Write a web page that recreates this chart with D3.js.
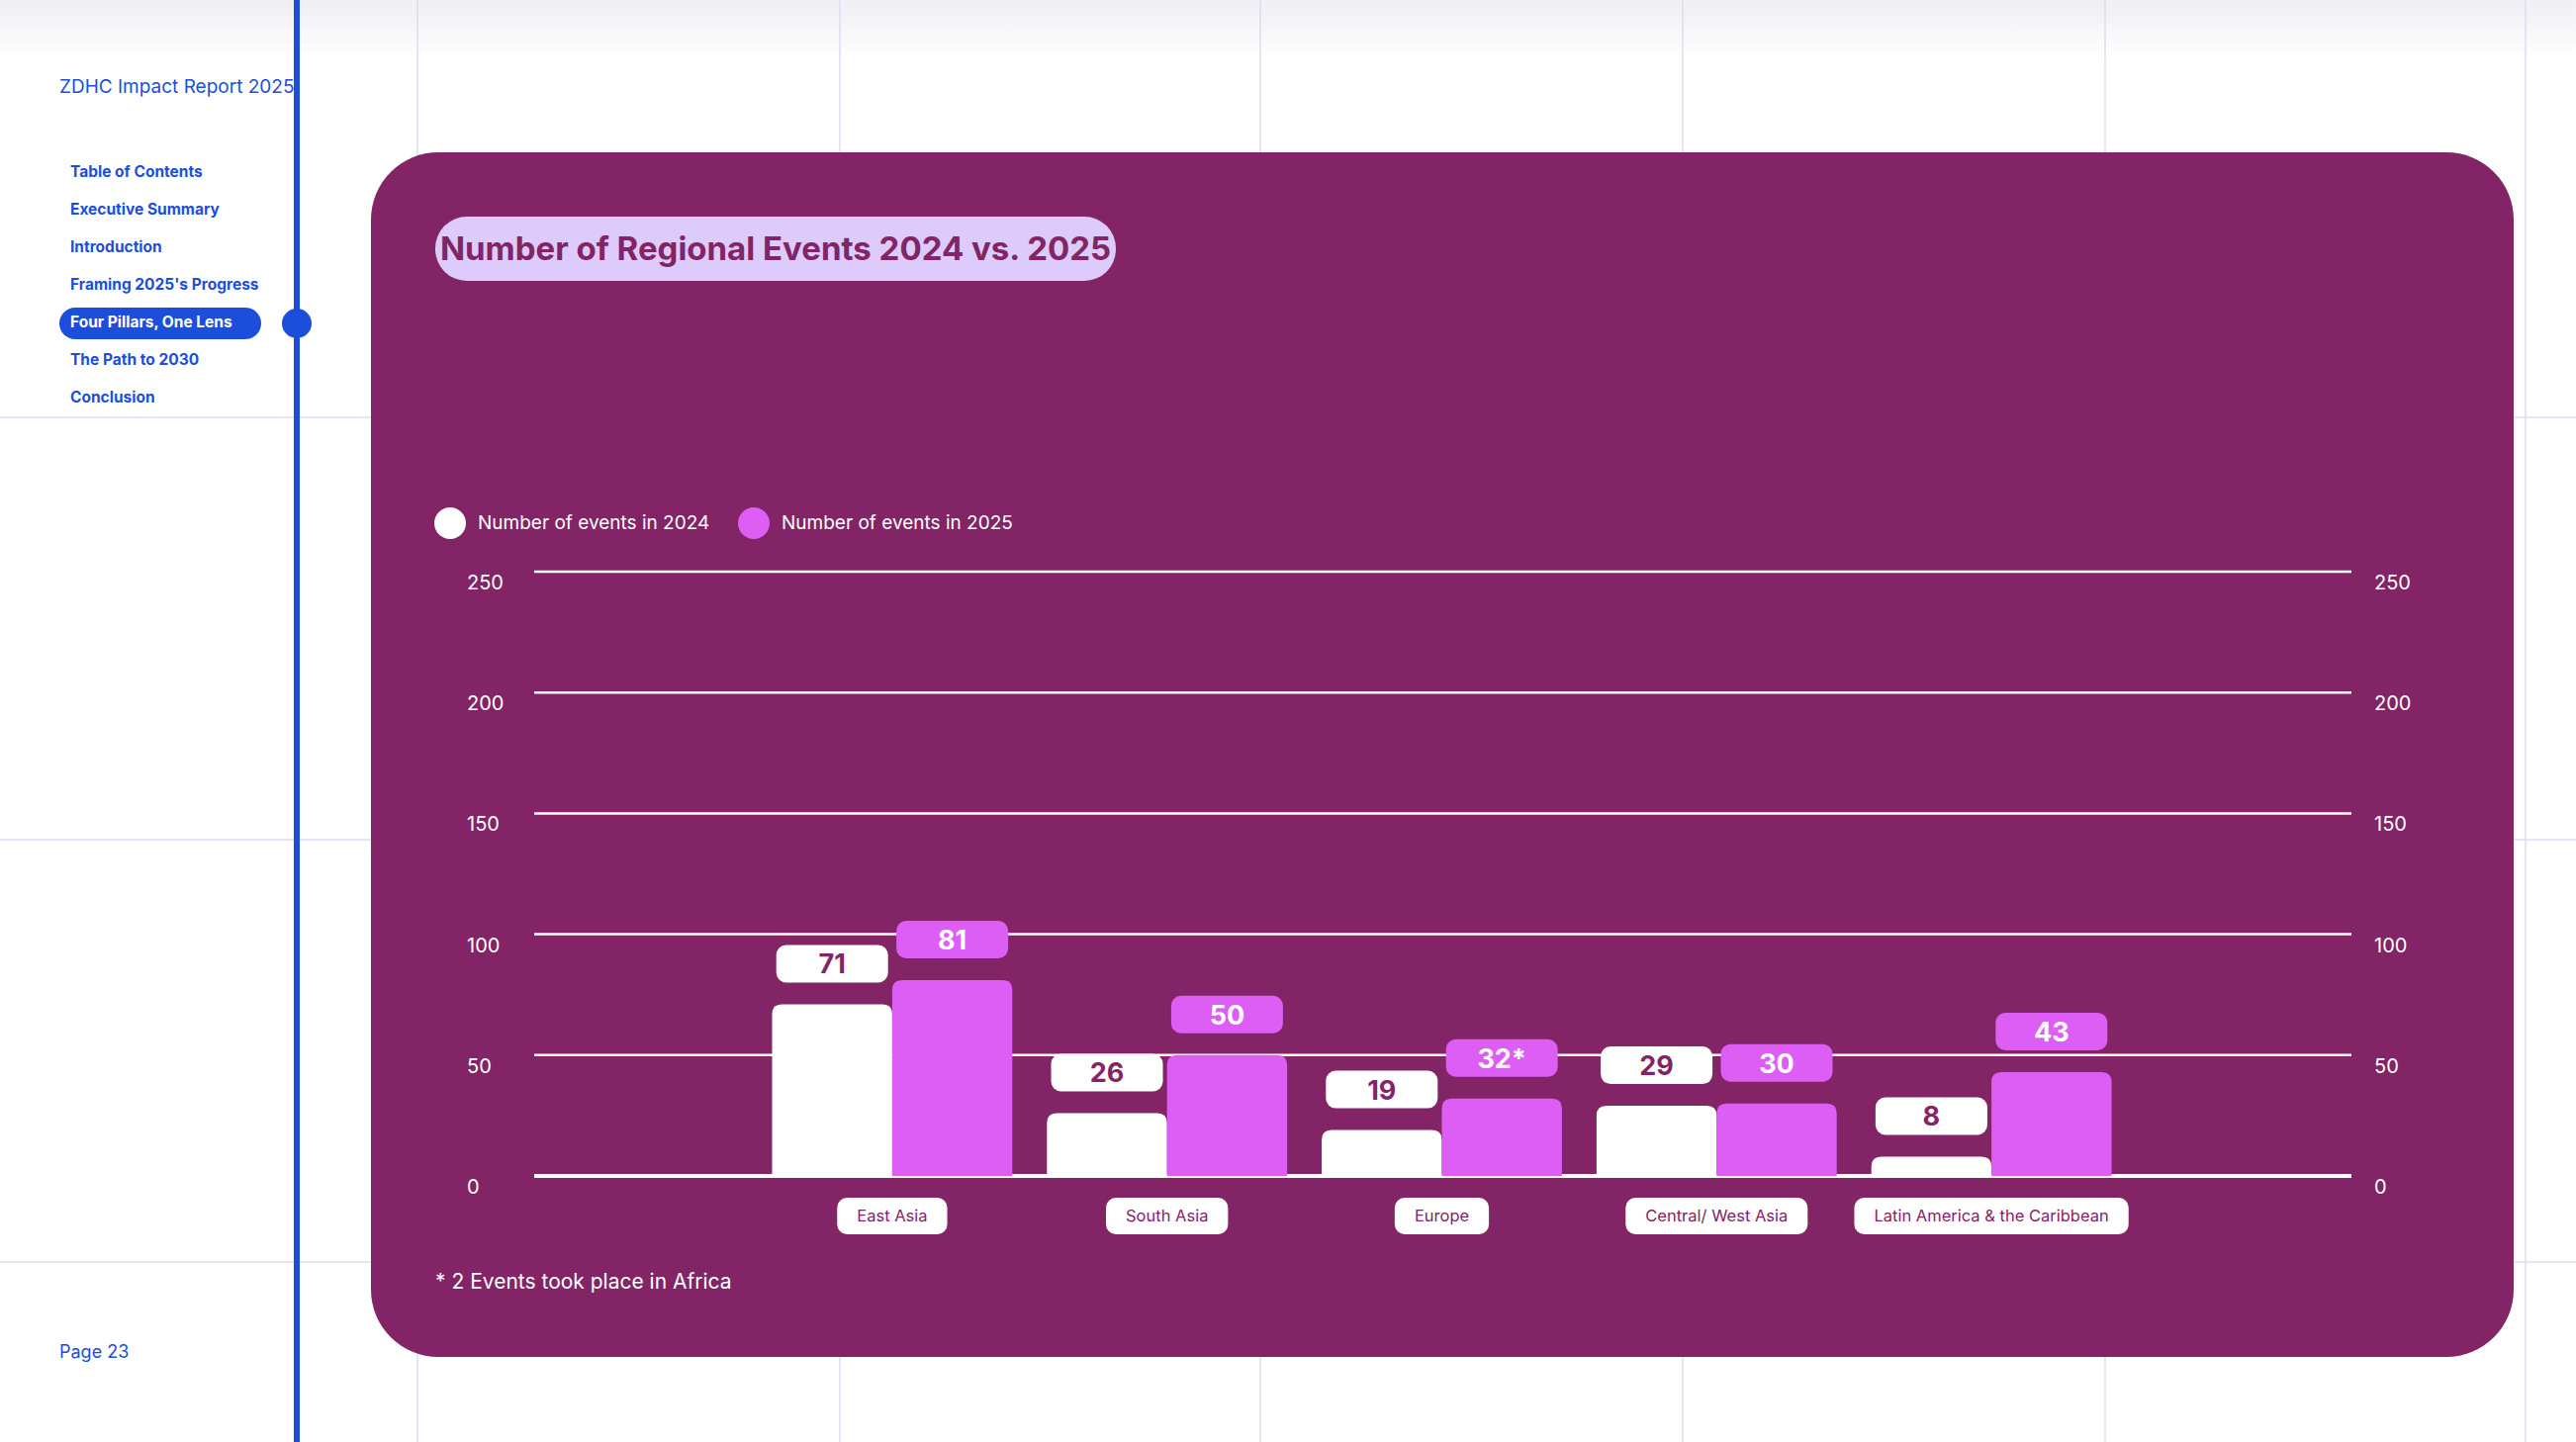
<!DOCTYPE html>
<html>
<head>
<meta charset="utf-8">
<script src="https://cdn.jsdelivr.net/npm/d3@7"></script>
<style>
  body { margin: 0; background: #fff; }
  svg { display: block; font-family: Inter, "Noto Sans", sans-serif; }
</style>
</head>
<body>
<svg id="page" width="2604" height="1458"></svg>
<script>
// data
const regions = ["East Asia", "South Asia", "Europe", "Central/ West Asia", "Latin America & the Caribbean"];
const events2024 = [71, 26, 19, 29, 8];
const events2025 = [81, 50, 32, 30, 43];
const labels2025 = ["81", "50", "32*", "30", "43"];
const yTicks = [0, 50, 100, 150, 200, 250];
const seriesNames = ["Number of events in 2024", "Number of events in 2025"];
const navItems = ["Table of Contents", "Executive Summary", "Introduction", "Framing 2025's Progress",
  "Four Pillars, One Lens", "The Path to 2030", "Conclusion"];

const blue = "#1c4edc", plum = "#822466", pink = "#dc5ef5", white = "#ffffff";

const svg = d3.select("#page");

// page background
const defs = svg.append("defs");
const grad = defs.append("linearGradient").attr("id", "topfade").attr("x1", 0).attr("x2", 0).attr("y1", 0).attr("y2", 1);
grad.append("stop").attr("offset", 0).attr("stop-color", "#efeff4");
grad.append("stop").attr("offset", 1).attr("stop-color", "#ffffff");
svg.append("rect").attr("width", 2604).attr("height", 60).attr("fill", "url(#topfade)");

[422, 849, 1274, 1701, 2128, 2553].forEach(x =>
  svg.append("line").attr("x1", x).attr("x2", x).attr("y1", 0).attr("y2", 1458)
    .attr("stroke", "#dcdcf0").attr("stroke-width", 1.5));
[422, 849, 1276].forEach(y =>
  svg.append("line").attr("x1", 0).attr("x2", 2604).attr("y1", y).attr("y2", y)
    .attr("stroke", "#dcdcf0").attr("stroke-width", 1.5));

// sidebar
svg.append("line").attr("x1", 300).attr("x2", 300).attr("y1", 0).attr("y2", 1458)
  .attr("stroke", blue).attr("stroke-width", 6);
svg.append("circle").attr("cx", 300).attr("cy", 327).attr("r", 15).attr("fill", blue);
svg.append("text").attr("x", 60).attr("y", 94).attr("fill", blue).attr("font-size", 19).text("ZDHC Impact Report 2025");
svg.append("rect").attr("x", 60).attr("y", 311).attr("width", 204).attr("height", 32).attr("rx", 16).attr("fill", blue);
svg.selectAll(".nav").data(navItems).enter().append("text")
  .attr("x", 71).attr("y", (d, i) => 179 + i * 38)
  .attr("font-size", 15.5).attr("font-weight", 700)
  .attr("fill", (d, i) => i === 4 ? white : blue).text(d => d);
svg.append("text").attr("x", 60).attr("y", 1373).attr("fill", blue).attr("font-size", 18).text("Page 23");

// panel
svg.append("rect").attr("x", 375).attr("y", 154).attr("width", 2166).attr("height", 1218)
  .attr("rx", 68).attr("fill", plum);

// title pill
svg.append("rect").attr("x", 440).attr("y", 219).attr("width", 688).attr("height", 65).attr("rx", 32).attr("fill", "#dccbfb");
svg.append("text").attr("x", 784).attr("y", 263).attr("text-anchor", "middle").attr("fill", plum)
  .attr("font-size", 33).attr("font-weight", 700).text("Number of Regional Events 2024 vs. 2025");

// legend
const legendX = [455, 762];
seriesNames.forEach((s, i) => {
  svg.append("circle").attr("cx", legendX[i]).attr("cy", 529).attr("r", 16).attr("fill", i ? pink : white);
  svg.append("text").attr("x", legendX[i] + 28).attr("y", 535).attr("fill", white).attr("font-size", 19).text(s);
});

// scales
const y = d3.scaleLinear().domain([0, 250]).range([1189, 578]);
const x0 = d3.scaleBand().domain(regions).range([763, 2152]).paddingInner(0.126).paddingOuter(0.063);
const x1 = d3.scaleBand().domain([0, 1]).range([0, x0.bandwidth()]);

// grid and tick labels
const g = svg.append("g");
g.selectAll(".grid").data(yTicks).enter().append("line")
  .attr("x1", 540).attr("x2", 2377).attr("y1", d => y(d)).attr("y2", d => y(d))
  .attr("stroke", white).attr("stroke-width", d => d === 0 ? 4 : 2.5);
[472, 2400].forEach(tx => {
  g.selectAll(null).data(yTicks).enter().append("text")
    .attr("x", tx).attr("y", d => y(d) + 18).attr("fill", white).attr("font-size", 20)
    .text(d => d);
});

// bars
const series = [events2024, events2025];
const seriesLabels = [events2024.map(String), labels2025];
series.forEach((vals, s) => {
  const bars = g.selectAll(".bar" + s).data(regions).enter().append("g")
    .attr("transform", d => `translate(${x0(d) + x1(s)},0)`);
  bars.append("path")
    .attr("d", (d, i) => {
      const w = x1.bandwidth(), top = y(vals[i]), bot = y(0), r = Math.min(10, (bot - top));
      return `M0,${bot}V${top + r}Q0,${top} ${r},${top}H${w - r}Q${w},${top} ${w},${top + r}V${bot}Z`;
    })
    .attr("fill", s ? pink : white);
  const pw = 113, ph = 38;
  bars.append("rect")
    .attr("x", (x1.bandwidth() - pw) / 2).attr("y", (d, i) => y(vals[i]) - 22 - ph)
    .attr("width", pw).attr("height", ph).attr("rx", 10).attr("fill", s ? pink : white);
  bars.append("text")
    .attr("x", x1.bandwidth() / 2).attr("y", (d, i) => y(vals[i]) - 22 - ph / 2 + 10)
    .attr("text-anchor", "middle").attr("font-size", 27).attr("font-weight", 700)
    .attr("fill", s ? white : plum).text((d, i) => seriesLabels[s][i]);
});

// category pills
const cats = g.selectAll(".cat").data(regions).enter().append("g")
  .attr("transform", d => `translate(${x0(d) + x0.bandwidth() / 2},0)`);
cats.append("text").attr("y", 1235).attr("text-anchor", "middle").attr("font-size", 16.5)
  .attr("fill", plum).text(d => d)
  .each(function () {
    const w = this.getComputedTextLength() + 40;
    d3.select(this.parentNode).insert("rect", "text")
      .attr("x", -w / 2).attr("y", 1211).attr("width", w).attr("height", 37).attr("rx", 10).attr("fill", white);
  });

// footnote
svg.append("text").attr("x", 440).attr("y", 1303).attr("fill", white).attr("font-size", 21)
  .text("* 2 Events took place in Africa");
</script>
</body>
</html>
